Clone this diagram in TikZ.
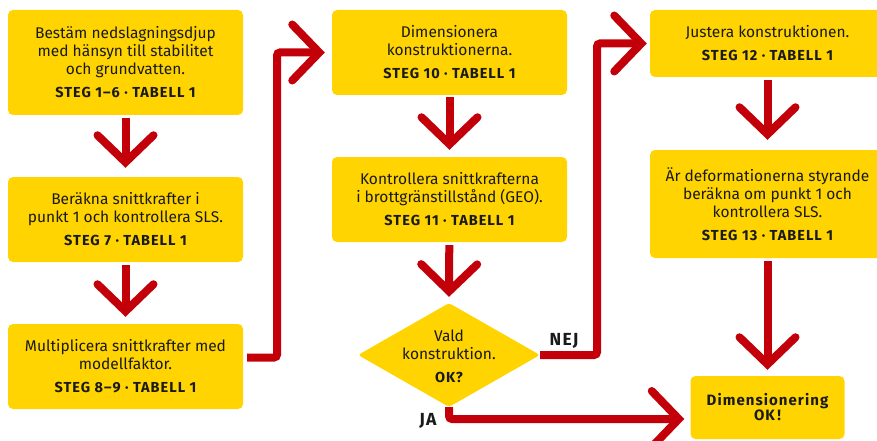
\documentclass[tikz,border=0pt]{standalone}
\usepackage{fontspec}
\setmainfont{Fira Sans}
\newfontfamily\lblfont[LetterSpace=7]{Fira Sans}
\usetikzlibrary{arrows.meta,shapes.geometric}
\definecolor{hyel}{HTML}{FFD400}
\definecolor{hred}{HTML}{C3000A}
\definecolor{htxt}{HTML}{1A1A1A}
\newcommand{\lbl}[1]{{\lblfont\fontsize{14.5}{15}\selectfont\bfseries #1}}
\begin{document}
\begin{tikzpicture}[x=1pt,y=-1pt,
  box/.style={fill=hyel, rounded corners=5pt, minimum width=235pt, align=center,
    text=htxt, font=\fontsize{15.5}{18}\selectfont, inner sep=0pt},
  conn/.style={draw=hred, line width=8pt,
    -{Straight Barb[length=27pt, width=56pt, line cap=round, line join=miter]}},
  branch/.style={font=\lblfont\fontsize{17.5}{17.5}\selectfont\bfseries, text=htxt},
]
\useasboundingbox (0,0) rectangle (877,441);

% left column
\node[box, minimum height=105pt] (b1) at (125.5,62.5)
  {Bestäm nedslagningsdjup\\med hänsyn till stabilitet\\och grundvatten.\\[5pt]\lbl{STEG 1–6 · TABELL 1}};
\node[box, minimum height=85pt] (b2) at (125.5,219.5)
  {Beräkna snittkrafter i\\punkt 1 och kontrollera SLS.\\[5pt]\lbl{STEG 7 · TABELL 1}};
\node[box, minimum height=85pt] (b3) at (125.5,366.5)
  {Multiplicera snittkrafter med\\modellfaktor.\\[5pt]\lbl{STEG 8–9 · TABELL 1}};

% middle column
\node[box, minimum height=85pt] (b10) at (449.5,52.5)
  {Dimensionera\\konstruktionerna.\\[5pt]\lbl{STEG 10 · TABELL 1}};
\node[box, minimum height=85pt] (b11) at (449.5,199.5)
  {Kontrollera snittkrafterna\\i brottgränstillstånd (GEO).\\[5pt]\lbl{STEG 11 · TABELL 1}};
\node[diamond, fill=hyel, rounded corners=3pt, minimum width=182pt, minimum height=104pt, inner sep=0pt] (d) at (449,355) {};
\node[align=center, text=htxt, font=\fontsize{15.5}{18}\selectfont, inner sep=0pt] (dt) at ([yshift=-1pt]d.center)
  {Vald\\konstruktion.\\[5pt]\lbl{OK?}};

% right column
\node[box, minimum height=67pt] (b12) at (767.5,43.5)
  {Justera konstruktionen.\\[5pt]\lbl{STEG 12 · TABELL 1}};
\node[box, minimum height=108pt] (b13) at (767.5,204)
  {Är deformationerna styrande\\beräkna om punkt 1 och\\kontrollera SLS.\\[5pt]\lbl{STEG 13 · TABELL 1}};
\node[box, minimum width=154pt, minimum height=63pt, font=\lblfont\fontsize{15}{15}\selectfont\bfseries] (dim) at (767.5,407.5)
  {Dimensionering\\OK\,!};

% connectors
\coordinate (c1) at (277,52.5);
\coordinate (c2) at (597,43.5);
\draw[conn, shorten <=3pt, shorten >=9pt] (b1) -- (b2);
\draw[conn, shorten <=3pt, shorten >=7pt] (b2) -- (b3);
\draw[conn, rounded corners=3pt, shorten >=7pt] ([xshift=4pt,yshift=9pt]b3.east) -| (c1) -- (b10.west);
\draw[conn, shorten <=2pt, shorten >=7pt] (b10) -- (b11);
\draw[conn, shorten <=3pt, shorten >=6pt] (b11) -- (d.north);
\draw[conn, rounded corners=3pt, shorten >=3pt] (d.east) -| (c2) -- (b12.west);
\draw[conn, rounded corners=3pt, shorten >=6pt] (d.south) |- ([yshift=-11.5pt]dim.west);
\draw[conn, shorten <=3pt, shorten >=10pt] (b12) -- (b13);
\draw[conn, shorten <=3pt, shorten >=6pt] (b13) -- (dim);

% branch labels
\node[branch] (nej) at (564,341) {NEJ};
\node[branch] (ja) at (428,421) {JA};
\end{tikzpicture}
\end{document}
